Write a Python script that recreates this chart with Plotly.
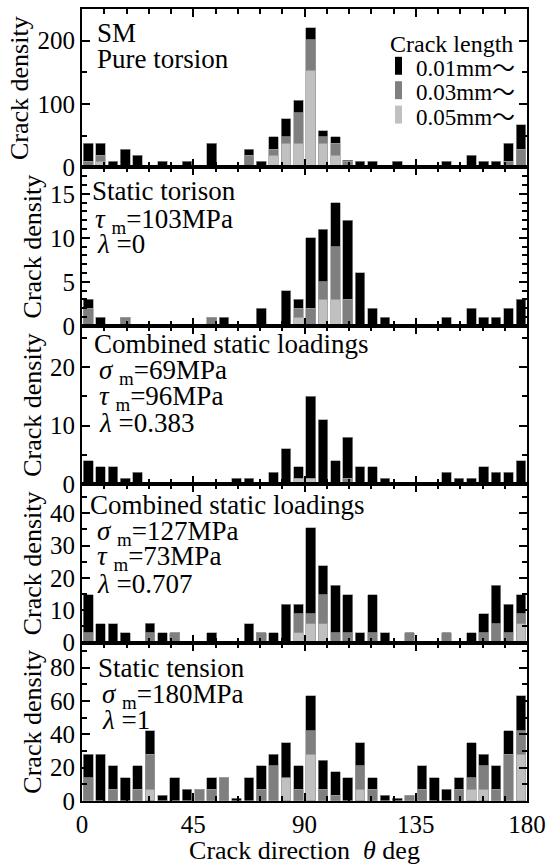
import plotly.graph_objects as go
from plotly.subplots import make_subplots

# ---------------- data ----------------
# bin centres (deg), 5-degree bins
bin_centers = [2.5, 7.5, 12.5, 17.5, 22.5, 27.5, 32.5, 37.5, 42.5, 47.5,
               52.5, 57.5, 62.5, 67.5, 72.5, 77.5, 82.5, 87.5, 92.5, 97.5,
               102.5, 107.5, 112.5, 117.5, 122.5, 127.5, 132.5, 137.5, 142.5, 147.5,
               152.5, 157.5, 162.5, 167.5, 172.5, 177.5]

legend_title = "Crack length"
series_names = ["0.01mm～", "0.03mm～", "0.05mm～"]

# Panel 1: SM pure torsion
p1_light = [0, 9.6, 0, 0, 0, 0, 0, 0, 0, 0,
            0, 0, 0, 0, 0, 19.2, 38.4, 38.4, 153.6, 38.4,
            19.2, 0, 0, 0, 0, 0, 0, 0, 0, 0,
            0, 0, 0, 0, 0, 0]
p1_gray = [9.6, 9.6, 0, 0, 0, 0, 0, 0, 0, 0,
           0, 0, 0, 19.2, 0, 9.6, 9.6, 48, 48, 9.6,
           19.2, 9.6, 0, 0, 0, 0, 0, 0, 0, 0,
           0, 0, 0, 0, 9.6, 28.8]
p1_black = [28.8, 19.2, 9.6, 28.8, 19.2, 0, 9.6, 0, 9.6, 0,
            38.4, 0, 0, 9.6, 9.6, 19.2, 28.8, 19.2, 19.2, 9.6,
            9.6, 2, 9.6, 9.6, 0, 9.6, 0, 0, 0, 9.6,
            0, 19.2, 9.6, 9.6, 28.8, 38.4]

# Panel 2: static torsion
p2_light = [0, 0, 0, 0, 0, 0, 0, 0, 0, 0,
            0, 0, 0, 0, 0, 0, 0, 1, 0, 3,
            3, 0, 0, 0, 0, 0, 0, 0, 0, 0,
            0, 0, 0, 0, 0, 0]
p2_gray = [2, 0, 0, 1, 0, 0, 0, 0, 0, 0,
           1, 0, 0, 0, 0, 0, 0, 1, 2, 2,
           6, 3, 0, 0, 0, 0, 0, 0, 0, 0,
           0, 0, 0, 0, 0, 0]
p2_black = [1, 1, 0, 0, 0, 0, 0, 0, 0, 0,
            0, 1, 0, 0, 2, 0, 4, 1, 8, 6,
            5, 9, 6, 2, 1, 0, 0, 0, 0, 1,
            0, 2, 1, 1, 2, 3]

# Panel 3: combined static loadings, lambda=0.383
p3_light = [0, 0, 0, 0, 0, 0, 0, 0, 0, 0,
            0, 0, 0, 0, 0, 0, 0, 1, 1, 0,
            0, 0, 0, 0, 0, 0, 0, 0, 0, 0,
            0, 0, 0, 0, 0, 0]
p3_gray = [0, 0, 0, 0, 0, 0, 0, 0, 0, 0,
           0, 0, 0, 0, 0, 0, 0, 0, 0, 0,
           0, 1, 0, 0, 0, 0, 0, 0, 0, 0,
           0, 0, 0, 0, 0, 0]
p3_black = [4, 3, 3, 1, 2, 0, 0, 0, 0, 0,
            0, 0, 1, 1, 0, 2, 6, 2, 14, 11,
            4, 7, 3, 3, 1, 0, 0, 0, 0, 2,
            1, 1, 3, 2, 2, 4]

# Panel 4: combined static loadings, lambda=0.707
p4_light = [0, 0, 0, 0, 0, 0, 0, 0, 0, 0,
            0, 0, 0, 0, 0, 0, 0, 3.0, 5.9, 5.9,
            0, 0, 0, 0, 0, 0, 0, 0, 0, 0,
            0, 0, 0, 0, 0, 5.9]
p4_gray = [3.0, 0, 0, 0, 0, 3.0, 0, 3.0, 0, 0,
           0, 0, 0, 0, 3.0, 0, 0, 5.9, 3.0, 8.9,
           3.0, 3.0, 0, 3.0, 0, 0, 3.0, 0, 0, 3.0,
           0, 0, 3.0, 5.9, 3.0, 3.0]
p4_black = [11.8, 5.9, 5.9, 3.0, 0, 3.0, 3.0, 0, 0, 0,
            3.0, 0, 0, 5.9, 0, 3.0, 11.8, 3.0, 26.6, 8.9,
            14.8, 11.8, 3.0, 11.8, 3.0, 0, 0, 0, 0, 0,
            0, 3.0, 5.9, 11.8, 8.9, 5.9]

# Panel 5: static tension
p5_light = [0, 0, 0, 0, 0, 7, 0, 0, 0, 0,
            0, 0, 0, 0, 0, 0, 14, 0, 28, 0,
            0, 0, 7, 0, 0, 0, 0, 0, 0, 0,
            0, 7, 7, 0, 0, 28]
p5_gray = [14, 0, 7, 0, 7, 21, 0, 0, 0, 7,
           7, 14, 0, 0, 7, 21, 0, 7, 14, 7,
           3.5, 0, 14, 7, 0, 0, 3.5, 7, 0, 0,
           7, 7, 14, 7, 28, 14]
p5_black = [14, 28, 14, 14, 14, 14, 3.5, 14, 7, 0,
            7, 0, 1.5, 14, 14, 7, 21, 14, 21, 17.5,
            14, 14, 14, 7, 3.5, 1.5, 0, 14, 14, 7,
            7, 21, 7, 14, 14, 21]

panels = [
    (p1_light, p1_gray, p1_black),
    (p2_light, p2_gray, p2_black),
    (p3_light, p3_gray, p3_black),
    (p4_light, p4_gray, p4_black),
    (p5_light, p5_gray, p5_black),
]

y_ranges = [[0, 250], [0, 18], [0, 27], [0, 49], [0, 95]]
y_dticks = [100, 5, 10, 10, 20]
y_minor = [50, 1, 5, 5, 10]

x_ticks = [0, 45, 90, 135, 180]

# ---------------- figure ----------------
FONT = "Liberation Serif, Times New Roman, serif"
CJK = "Noto Sans CJK JP"
colors = {"light": "#c0c0c0", "gray": "#7f7f7f", "black": "#000000"}

fig = make_subplots(rows=5, cols=1, shared_xaxes=True, vertical_spacing=0)

for r, (lt, gy, bk) in enumerate(panels, start=1):
    for vals, key, name in [(lt, "light", series_names[2]),
                            (gy, "gray", series_names[1]),
                            (bk, "black", series_names[0])]:
        fig.add_trace(go.Bar(
            x=bin_centers, y=vals, width=3.9, name=name,
            marker=dict(color=colors[key], line=dict(color="#9a9a9a", width=0.7)),
            showlegend=False,
        ), row=r, col=1)

axis_common = dict(showline=True, linewidth=2, linecolor="black", mirror="ticks",
                   ticks="inside", ticklen=8, tickwidth=1.5, tickcolor="black",
                   showgrid=False, zeroline=False)

for r in range(1, 6):
    fig.update_xaxes(range=[0, 180], tickmode="array", tickvals=x_ticks,
                     minor=dict(dtick=9, tick0=0, ticks="inside", ticklen=5,
                                tickwidth=1.5, tickcolor="black"),
                     tickfont=dict(size=25), row=r, col=1, **axis_common)
    fig.update_yaxes(range=y_ranges[r - 1], dtick=y_dticks[r - 1], tick0=0,
                     minor=dict(dtick=y_minor[r - 1], ticks="inside", ticklen=5,
                                tickwidth=1.5, tickcolor="black"),
                     tickfont=dict(size=25),
                     title=dict(text="Crack density", font=dict(size=26), standoff=1),
                     row=r, col=1, **axis_common)

fig.update_xaxes(title=dict(text="Crack direction\u00a0\u00a0<i>θ</i> deg",
                            font=dict(size=26), standoff=2), row=5, col=1)

# pixel -> paper conversion for the plot area
L, R, T, B = 82, 527, 7, 802
def px(x, y):
    return (x - L) / (R - L), (B - y) / (B - T)

texts = [
    ("SM", 95, 31), ("Pure torsion", 95, 57),
    ("Static torison", 90, 190), ("<i>τ</i> <sub>m</sub>=103MPa", 93, 220),
    ("<i>λ</i> =0", 95, 243),
    ("Combined static loadings", 92, 343), ("<i>σ</i> <sub>m</sub>=69MPa", 97, 371),
    ("<i>τ</i> <sub>m</sub>=96MPa", 97, 397), ("<i>λ</i> =0.383", 97, 423),
    ("Combined static loadings", 88, 505), ("<i>σ</i> <sub>m</sub>=127MPa", 95, 533),
    ("<i>τ</i> <sub>m</sub>=73MPa", 95, 558), ("<i>λ</i> =0.707", 95, 584),
    ("Static tension", 96, 668), ("<i>σ</i> <sub>m</sub>=180MPa", 100, 697),
    ("<i>λ</i> =1", 100, 721),
]
for t, x, y in texts:
    ax, ay = px(x, y)
    fig.add_annotation(text=t, x=ax, y=ay, xref="paper", yref="paper",
                       xanchor="left", yanchor="middle", showarrow=False,
                       font=dict(size=27, family=FONT, color="black"))

# legend (key swatches + text, as in the original figure)
tx, ty = px(388, 42)
fig.add_annotation(text=legend_title, x=tx, y=ty, xref="paper", yref="paper",
                   xanchor="left", yanchor="middle", showarrow=False,
                   font=dict(size=24, family=FONT, color="black"))
for i, (name, key) in enumerate(zip(series_names, ["black", "gray", "light"])):
    cy = 64 + 24.5 * i
    x0, y0 = px(395, cy - 9)
    x1, y1 = px(402, cy + 9)
    fig.add_shape(type="rect", xref="paper", yref="paper", x0=x0, x1=x1, y0=y1, y1=y0,
                  fillcolor=colors[key], line=dict(width=0))
    label = name.replace("～", "<span style='font-family:%s'>～</span>" % CJK)
    lx, ly = px(414, cy)
    fig.add_annotation(text=label, x=lx, y=ly, xref="paper", yref="paper",
                       xanchor="left", yanchor="middle", showarrow=False,
                       font=dict(size=23, family=FONT, color="black"))

fig.update_layout(
    width=557, height=865,
    margin=dict(l=L, r=557 - R, t=T, b=865 - B),
    paper_bgcolor="white", plot_bgcolor="white",
    barmode="stack", showlegend=False,
    font=dict(family=FONT, size=24, color="black"),
)

fig.write_html("out.html")
